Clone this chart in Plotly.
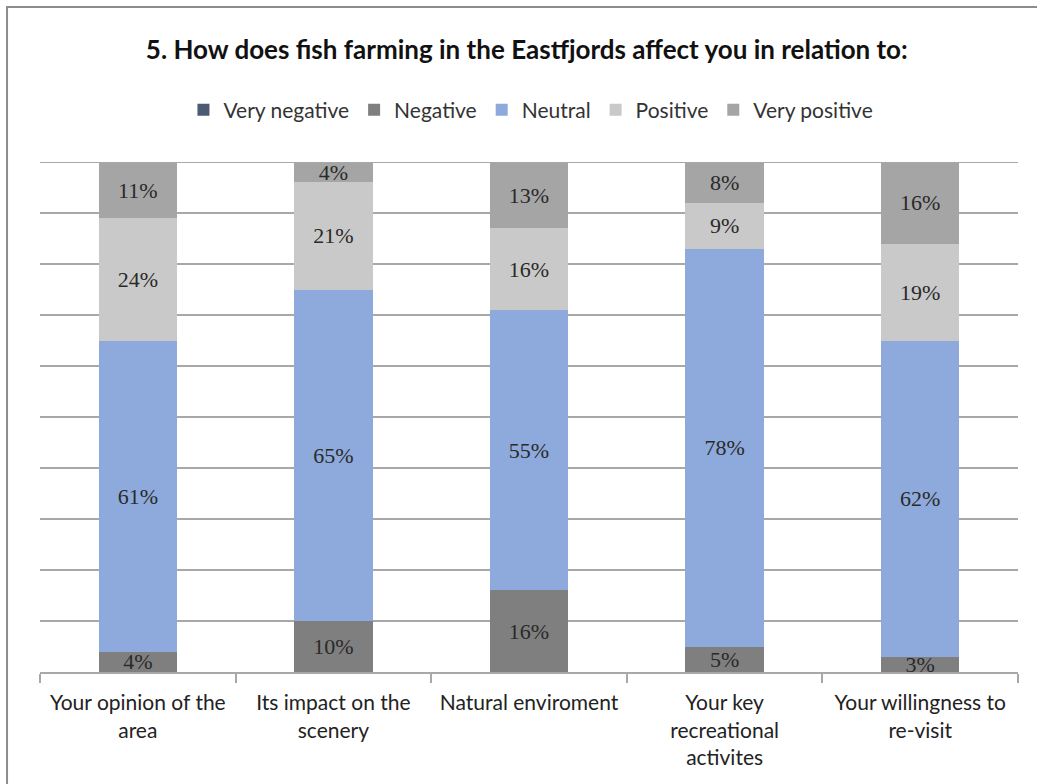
import plotly.graph_objects as go

categories = [
    "Your opinion of the<br>area",
    "Its impact on the<br>scenery",
    "Natural enviroment",
    "Your key<br>recreational<br>activites",
    "Your willingness to<br>re-visit",
]
very_negative = [0, 0, 0, 0, 0]
negative = [4, 10, 16, 5, 3]
neutral = [61, 65, 55, 78, 62]
positive = [24, 21, 16, 9, 19]
very_positive = [11, 4, 13, 8, 16]

series = [
    ("Very negative", very_negative, "#4d5a73"),
    ("Negative", negative, "#7f7f7f"),
    ("Neutral", neutral, "#8eaadc"),
    ("Positive", positive, "#c9c9c9"),
    ("Very positive", very_positive, "#a5a5a5"),
]

GRID = "#a8a8a8"

fig = go.Figure()
for name, vals, color in series:
    fig.add_trace(go.Bar(
        name=name,
        x=categories,
        y=vals,
        marker=dict(color=color, line=dict(width=0)),
        text=[f"{v}%" if v else "" for v in vals],
        textposition="inside",
        insidetextanchor="middle",
        textangle=0,
        textfont=dict(family="Liberation Serif", size=22, color="#2a2a2a"),
        hoverinfo="skip",
    ))

fig.update_layout(
    width=1037,
    height=784,
    barmode="stack",
    bargap=0.6,
    paper_bgcolor="white",
    plot_bgcolor="white",
    margin=dict(l=40, r=19, t=162, b=112),
    uniformtext=dict(minsize=22, mode="show"),
    title=dict(
        text="<b>5. How does fish farming in the Eastfjords affect you in relation to:</b>",
        x=0.508, xanchor="center", y=0.936, yanchor="middle",
        font=dict(family="Lato", size=26, color="#111111"),
    ),
    legend=dict(
        orientation="h", x=0.502, xanchor="center", y=1.102, yanchor="middle",
        traceorder="normal",
        font=dict(family="Lato", size=21, color="#333333"),
        itemwidth=30,
    ),
    showlegend=True,
    xaxis=dict(
        showline=True, linecolor=GRID, linewidth=2,
        ticks="outside", tickson="boundaries", ticklen=9,
        tickcolor=GRID, tickwidth=2,
        ticklabelstandoff=11,
        tickfont=dict(family="Lato", size=21, color="#222222"),
        fixedrange=True,
    ),
    yaxis=dict(
        range=[0, 100], dtick=10, showgrid=True, gridcolor=GRID,
        gridwidth=2, showticklabels=False, zeroline=False, showline=False,
        fixedrange=True,
    ),
    shapes=[
        dict(
            type="rect", xref="paper", yref="paper",
            x0=-0.0337, x1=1.2, y0=-0.5, y1=1.304,
            line=dict(color="#8c8c8c", width=2), layer="below",
        ),
        dict(
            type="line", xref="paper", yref="y",
            x0=0, x1=1, y0=100, y1=100,
            line=dict(color=GRID, width=2), layer="above",
        ),
    ],
)

fig.write_html("out.html")
